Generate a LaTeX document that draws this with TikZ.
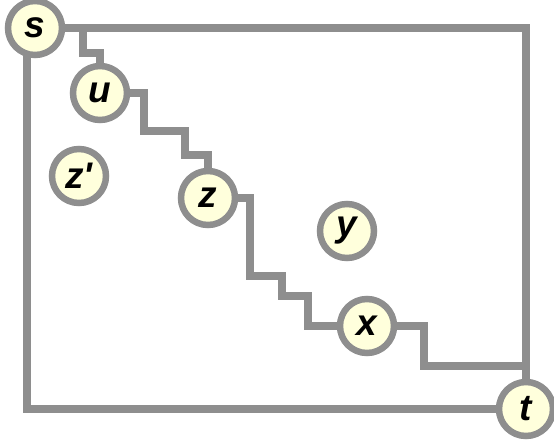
\documentclass[tikz,border=0pt]{standalone}
\usepackage{fontspec}
\newfontfamily\labelfont{Liberation Sans}
\usetikzlibrary{backgrounds}
\definecolor{wiregray}{HTML}{8E8E8E}
\definecolor{nodefill}{HTML}{FFFFDC}
\tikzset{
  vertex/.style={circle, draw=wiregray, fill=nodefill, line width=6.5pt,
    minimum size=54pt, inner sep=0pt, font=\labelfont\fontsize{37}{37}\selectfont\bfseries\itshape},
  wire/.style={draw=wiregray, line width=7.5pt, line join=miter}
}
\begin{document}
\begin{tikzpicture}[x=1pt, y=-1pt]
\useasboundingbox (0,0) rectangle (554,446);
\foreach \n/\a/\b/\l in {s/35/28/s, u/100/93/u, zp/79/176/z', z/208/198/z,
                          y/347/231/y, x/367/326/x, t/526/409/t}
{
    \node[vertex] (\n) at (\a,\b) {\l};
}
\begin{scope}[on background layer]
% outer frame
\draw[wire] (s) -| (t);
\draw[wire] ([xshift=-8pt]s.center) |- (t);
% staircase path s - u - z - x - t
\draw[wire] ([xshift=48pt]s.center) |- ++(17,25) -- (u);
\draw[wire] (u) -| ++(44,38) -| ++(41,24) -| (z);
\draw[wire] (z) -| ++(42,78) -| ++(32,20) -| ++(26,30) -- (x);
\draw[wire] (x) -| ++(57,40) -| (t);
\end{scope}
\end{tikzpicture}
\end{document}
